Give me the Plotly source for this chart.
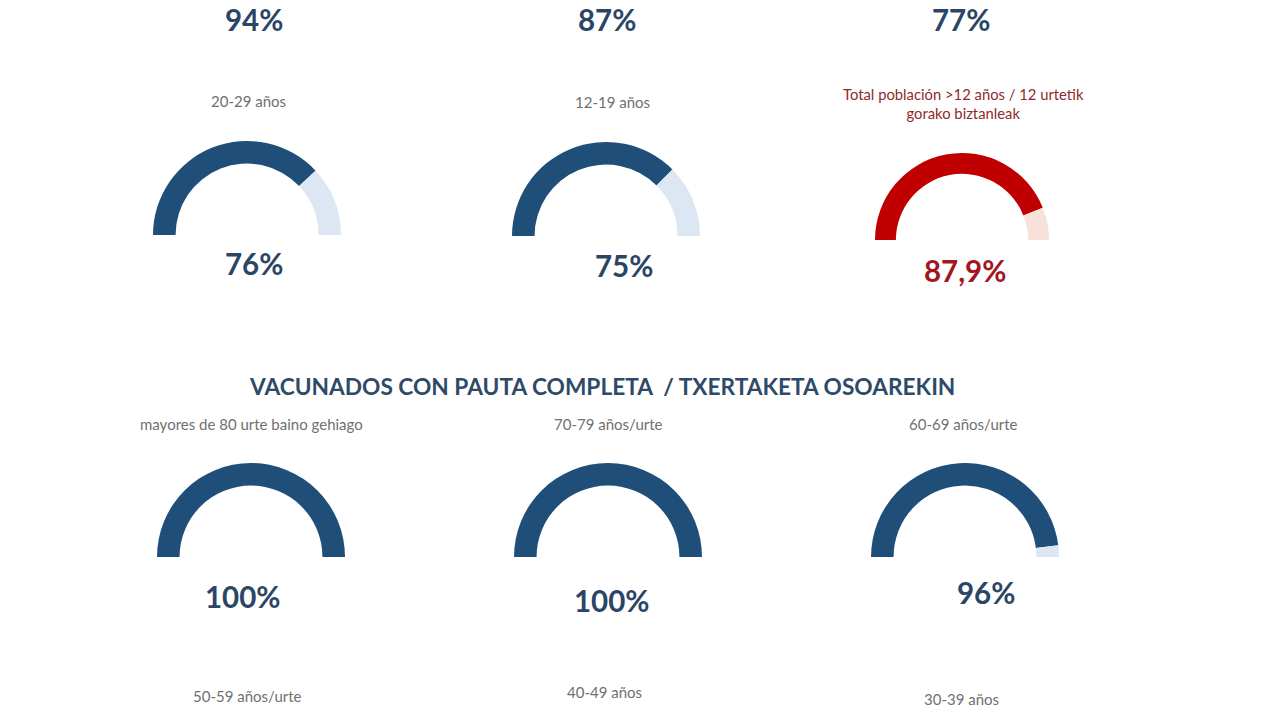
"""
Vaccination coverage gauges (half-donut) by age group.
Each gauge is a pie with a transparent bottom half.
"""

import plotly.graph_objects as go

W, H = 1280, 720

# Partial row at the top: only the numbers remain visible
TOP_VALUES = [94, 87, 77]

# Middle row
MID_LABELS = ['20-29 años', '12-19 años',
              'Total población >12 años / 12 urtetik<br>gorako biztanleak']
MID_VALUES = [76, 75, 87.9]

# Bottom row: full schedule
SECTION_TITLE = 'VACUNADOS CON PAUTA COMPLETA  / TXERTAKETA OSOAREKIN'
LOW_LABELS = ['mayores de 80 urte baino gehiago', '70-79 años/urte', '60-69 años/urte']
LOW_VALUES = [100, 100, 96]
NEXT_LABELS = ['50-59 años/urte', '40-49 años', '30-39 años']

BLUE = '#1f4e79'
BLUE_LIGHT = '#dde7f3'
RED = '#c00000'
RED_LIGHT = '#f8e1d8'
NUM_BLUE = '#2b4565'
NUM_RED = '#a3151f'
GREY = '#707070'
FONT = 'Lato, Open Sans, sans-serif'


def px(x):
    return x / W


def py(y):
    return 1 - y / H


def fmt(v):
    if float(v).is_integer():
        return f'{int(v)}%'
    return f'{v}%'.replace('.', ',')


def half_donut(value, cx, cy, r, color, light):
    # domain square centred on the gauge baseline
    return go.Pie(
        values=[value, 100 - value, 100],
        marker=dict(colors=[color, light, 'rgba(0,0,0,0)'], line=dict(width=0)),
        hole=0.76,
        sort=False,
        direction='clockwise',
        rotation=-90,
        textinfo='none',
        hoverinfo='skip',
        showlegend=False,
        domain=dict(x=[px(cx - r), px(cx + r)], y=[py(cy + r), py(cy - r)]),
    )


fig = go.Figure()

# gauge geometry (centre x, baseline y, radius) per slot
mid_slots = [(247, 235, 94), (606, 236, 94), (962, 240, 87)]
low_slots = [(251, 557, 94), (608, 557, 94), (965, 557, 94)]

for i, v in enumerate(MID_VALUES):
    cx, cy, r = mid_slots[i]
    red = i == 2
    fig.add_trace(half_donut(v, cx, cy, r, RED if red else BLUE, RED_LIGHT if red else BLUE_LIGHT))

for i, v in enumerate(LOW_VALUES):
    cx, cy, r = low_slots[i]
    fig.add_trace(half_donut(v, cx, cy, r, BLUE, BLUE_LIGHT))


def note(text, x, y, size, color, bold=False, yanchor='middle'):
    fig.add_annotation(
        text=f'<b>{text}</b>' if bold else text,
        x=px(x), y=py(y), xref='paper', yref='paper',
        showarrow=False, xanchor='center', yanchor=yanchor,
        font=dict(size=size, color=color, family=FONT),
    )


# numbers of the row cut off at the top
for v, x in zip(TOP_VALUES, [254, 607, 961]):
    note(fmt(v), x, 0, 29.5, NUM_BLUE, bold=True, yanchor='top')

# middle row labels and numbers
for lab, (x, y) in zip(MID_LABELS, [(248, 101), (612, 102), (963, 104)]):
    red = 'Total' in lab
    note(lab, x, y, 14.8 if red else 15, '#8e2a2d' if red else GREY)

for i, (v, (x, y)) in enumerate(zip(MID_VALUES, [(254, 263), (624, 265), (965, 270)])):
    note(fmt(v), x, y, 29.5, NUM_RED if i == 2 else NUM_BLUE, bold=True)

note(SECTION_TITLE, 602, 386, 22.7, '#2e4a68', bold=True)

for lab, (x, y) in zip(LOW_LABELS, [(251, 424), (608, 424), (963, 424)]):
    note(lab, x, y, 15, GREY)

for v, (x, y) in zip(LOW_VALUES, [(243, 596), (612, 600), (986, 592)]):
    note(fmt(v), x, y, 29.5, NUM_BLUE, bold=True)

for lab, (x, y) in zip(NEXT_LABELS, [(247, 696), (604, 692), (961, 699)]):
    note(lab, x, y, 15, GREY)

fig.update_layout(
    width=W,
    height=H,
    margin=dict(l=0, r=0, t=0, b=0),
    paper_bgcolor='#ffffff',
    plot_bgcolor='#ffffff',
    font=dict(family=FONT),
)

fig.write_html('out.html', config={'displayModeBar': False},
               post_script="document.body.style.margin='0';")
